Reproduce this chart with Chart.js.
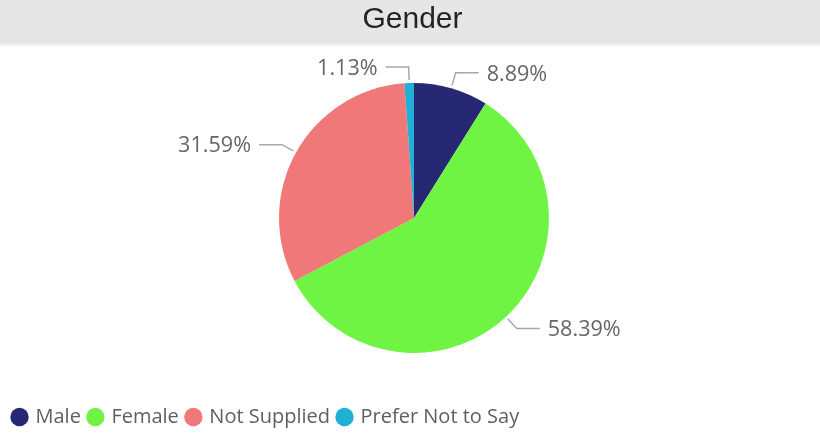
<!DOCTYPE html>
<html><head><meta charset="utf-8">
<script src="https://cdn.jsdelivr.net/npm/chart.js@4/dist/chart.umd.min.js"></script>
<style>html,body{margin:0;padding:0;background:#fff}#wrap{width:820px;height:448px;position:relative}</style>
</head><body><div id="wrap"><canvas id="c" width="820" height="448"></canvas></div>
<script>
const chartTitle = 'Gender';
const categories = ['Male', 'Female', 'Not Supplied', 'Prefer Not to Say'];
const shares = [8.89, 58.39, 31.59, 1.13];
const sliceColors = ['#262874', '#70F444', '#F07878', '#22AFD5'];

const PIE = { cx: 414, cy: 218, r: 135 };

const titleBand = {
  id: 'titleBand',
  beforeDraw(chart) {
    const ctx = chart.ctx;
    ctx.save();
    ctx.fillStyle = '#e6e6e6';
    ctx.fillRect(0, 0, chart.width, 44);
    ctx.fillStyle = '#f3f3f3';
    ctx.fillRect(0, 44, chart.width, 2);
    ctx.restore();
  }
};

const pieBox = {
  id: 'pieBox',
  afterLayout(chart) {
    chart.chartArea = {
      left: PIE.cx - PIE.r, right: PIE.cx + PIE.r,
      top: PIE.cy - PIE.r, bottom: PIE.cy + PIE.r,
      width: 2 * PIE.r, height: 2 * PIE.r
    };
  }
};

const leaderLabels = {
  id: 'leaderLabels',
  afterDatasetsDraw(chart) {
    const ctx = chart.ctx;
    const meta = chart.getDatasetMeta(0);
    const vals = chart.data.datasets[0].data;
    ctx.save();
    ctx.font = '21.6px "Open Sans"';
    ctx.textBaseline = 'middle';
    meta.data.forEach((arc, i) => {
      const p = arc.getProps(['x', 'y', 'startAngle', 'endAngle', 'outerRadius'], true);
      const mid = (p.startAngle + p.endAngle) / 2;
      const c = Math.cos(mid), s = Math.sin(mid);
      const x0 = p.x + c * (p.outerRadius + 3), y0 = p.y + s * (p.outerRadius + 3);
      const x1 = p.x + c * (p.outerRadius + 16), y1 = p.y + s * (p.outerRadius + 16);
      const right = c >= 0;
      const x2 = x1 + (right ? 23 : -23);
      ctx.strokeStyle = '#a8a8a8';
      ctx.lineWidth = 1.5;
      ctx.beginPath();
      ctx.moveTo(x0, y0);
      ctx.lineTo(x1, y1);
      ctx.lineTo(x2, y1);
      ctx.stroke();
      ctx.fillStyle = '#666666';
      ctx.textAlign = right ? 'left' : 'right';
      ctx.fillText(vals[i].toFixed(2) + '%', x2 + (right ? 8 : -8), y1 + 1.5);
    });
    ctx.restore();
  }
};

new Chart(document.getElementById('c'), {
  type: 'pie',
  data: {
    labels: categories,
    datasets: [{
      data: shares,
      backgroundColor: sliceColors,
      borderWidth: 0,
      radius: PIE.r
    }]
  },
  options: {
    responsive: false,
    animation: false,
    devicePixelRatio: 1,
    events: [],
    layout: { padding: { left: 5, right: 0, top: 0, bottom: 11 } },
    plugins: {
      title: {
        display: true,
        text: chartTitle,
        color: '#252423',
        font: { family: '"Liberation Sans", Arial, sans-serif', size: 30, weight: 'normal', lineHeight: 1.2 },
        padding: { top: 2, bottom: 6 }
      },
      legend: {
        display: true,
        position: 'bottom',
        align: 'start',
        labels: {
          usePointStyle: true,
          pointStyle: 'circle',
          boxWidth: 12,
          boxHeight: 13,
          padding: 8.5,
          color: '#5f5f5f',
          font: { family: '"Open Sans", sans-serif', size: 20 }
        }
      },
      tooltip: { enabled: false }
    }
  },
  plugins: [titleBand, pieBox, leaderLabels]
});
</script>
</body></html>
